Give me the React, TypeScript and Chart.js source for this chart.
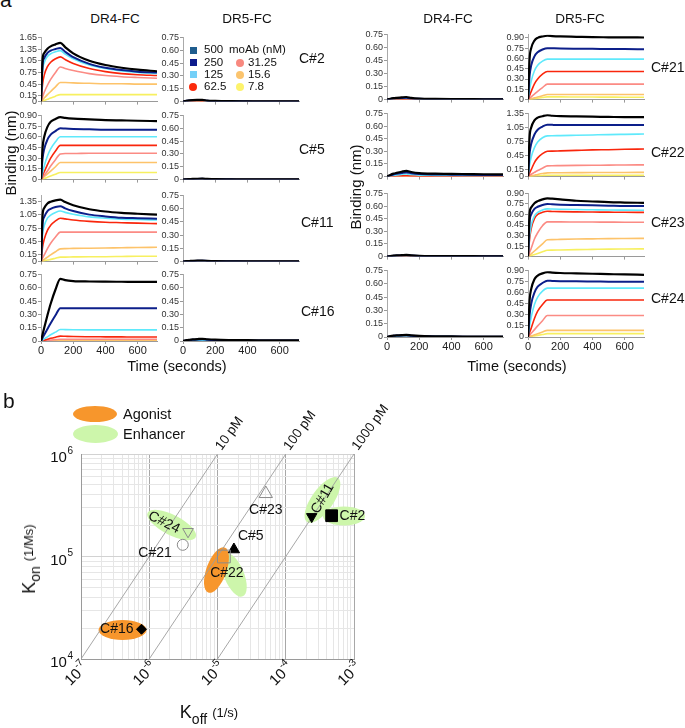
import React, { useEffect, useRef } from "react";
import { Chart, registerables } from "chart.js";
Chart.register(...registerables);

const FONT = "'Liberation Sans', Arial, Helvetica, sans-serif";

// ---------------- Panel a data ----------------
const TIME = [0, 10, 20, 40, 60, 90, 120, 150, 200, 300, 400, 500, 600, 720];
const CONC_LABELS = ["500", "250", "125", "62.5", "31.25", "15.6", "7.8"];
const ZERO = [0, 0, 0, 0, 0, 0, 0, 0, 0, 0, 0, 0, 0, 0];

const C2_DR4 = [
  [0, 1.10, 1.25, 1.36, 1.42, 1.47, 1.51, 1.40, 1.24, 1.05, 0.94, 0.87, 0.82, 0.78],
  [0, 0.95, 1.12, 1.25, 1.31, 1.35, 1.38, 1.28, 1.14, 0.97, 0.87, 0.81, 0.77, 0.745],
  [0, 0.80, 1.00, 1.16, 1.23, 1.28, 1.31, 1.22, 1.10, 0.94, 0.85, 0.79, 0.75, 0.725],
  [0, 0.45, 0.68, 0.90, 1.01, 1.10, 1.15, 1.08, 0.98, 0.85, 0.77, 0.72, 0.69, 0.67],
  [0, 0.12, 0.24, 0.42, 0.57, 0.75, 0.89, 0.85, 0.80, 0.72, 0.67, 0.64, 0.62, 0.60],
  [0, 0.04, 0.09, 0.18, 0.26, 0.38, 0.49, 0.49, 0.48, 0.47, 0.46, 0.46, 0.45, 0.45],
  [0, 0.015, 0.03, 0.06, 0.09, 0.14, 0.18, 0.18, 0.18, 0.18, 0.18, 0.18, 0.18, 0.18],
];
const C2_DR5 = [
  [0, 0.006, 0.01, 0.015, 0.018, 0.02, 0.021, 0.012, 0.008, 0.005, 0.004, 0.003, 0.003, 0.002],
  [0, 0.005, 0.009, 0.013, 0.016, 0.018, 0.019, 0.01, 0.006, 0.004, 0.003, 0.002, 0.002, 0.002],
  [0, 0.003, 0.005, 0.008, 0.01, 0.011, 0.012, 0.006, 0.004, 0.003, 0.002, 0.002, 0.001, 0.001],
  [0, 0.001, 0.002, 0.003, 0.004, 0.004, 0.004, 0.002, 0.001, 0, 0, 0, 0, 0],
  ZERO, ZERO, ZERO,
];
const C5_DR4 = [
  [0, 0.45, 0.60, 0.74, 0.81, 0.85, 0.875, 0.865, 0.855, 0.845, 0.835, 0.83, 0.825, 0.82],
  [0, 0.30, 0.43, 0.56, 0.63, 0.68, 0.72, 0.715, 0.71, 0.705, 0.70, 0.70, 0.70, 0.70],
  [0, 0.10, 0.19, 0.33, 0.43, 0.53, 0.60, 0.60, 0.60, 0.60, 0.60, 0.60, 0.60, 0.60],
  [0, 0.06, 0.11, 0.21, 0.30, 0.40, 0.48, 0.48, 0.48, 0.48, 0.48, 0.48, 0.48, 0.48],
  [0, 0.03, 0.06, 0.12, 0.19, 0.28, 0.36, 0.365, 0.365, 0.37, 0.37, 0.37, 0.37, 0.37],
  [0, 0.02, 0.04, 0.08, 0.12, 0.18, 0.24, 0.24, 0.24, 0.24, 0.24, 0.24, 0.24, 0.24],
  [0, 0.008, 0.016, 0.033, 0.05, 0.075, 0.10, 0.10, 0.10, 0.10, 0.10, 0.10, 0.10, 0.10],
];
const C5_DR5 = [
  [0, 0.002, 0.004, 0.006, 0.008, 0.01, 0.011, 0.008, 0.005, 0.004, 0.003, 0.003, 0.002, 0.002],
  [0, 0.002, 0.003, 0.005, 0.006, 0.008, 0.009, 0.006, 0.004, 0.003, 0.002, 0.002, 0.002, 0.001],
  ZERO, ZERO, ZERO, ZERO, ZERO,
];
const C11_DR4 = [
  [0, 1.05, 1.20, 1.30, 1.34, 1.37, 1.385, 1.33, 1.26, 1.17, 1.12, 1.09, 1.07, 1.05],
  [0, 0.85, 1.00, 1.13, 1.18, 1.22, 1.24, 1.19, 1.13, 1.05, 1.01, 0.98, 0.97, 0.96],
  [0, 0.60, 0.80, 0.97, 1.04, 1.10, 1.13, 1.10, 1.06, 1.00, 0.97, 0.95, 0.94, 0.93],
  [0, 0.33, 0.50, 0.70, 0.81, 0.91, 0.97, 0.955, 0.93, 0.90, 0.88, 0.87, 0.86, 0.85],
  [0, 0.08, 0.15, 0.29, 0.41, 0.55, 0.66, 0.66, 0.66, 0.66, 0.66, 0.66, 0.66, 0.66],
  [0, 0.025, 0.05, 0.10, 0.15, 0.22, 0.285, 0.29, 0.295, 0.30, 0.305, 0.31, 0.315, 0.32],
  [0, 0.008, 0.017, 0.035, 0.05, 0.075, 0.10, 0.10, 0.105, 0.11, 0.11, 0.115, 0.12, 0.12],
];
const C11_DR5 = [
  [0, 0.003, 0.005, 0.007, 0.009, 0.011, 0.012, 0.008, 0.005, 0.004, 0.003, 0.003, 0.002, 0.002],
  [0, 0.002, 0.004, 0.006, 0.007, 0.009, 0.01, 0.007, 0.004, 0.003, 0.002, 0.002, 0.002, 0.001],
  ZERO, ZERO, ZERO, ZERO, ZERO,
];
const C16_DR4 = [
  [0, 0.075, 0.15, 0.29, 0.42, 0.58, 0.70, 0.685, 0.675, 0.67, 0.668, 0.667, 0.666, 0.665],
  [0, 0.035, 0.07, 0.135, 0.20, 0.29, 0.37, 0.37, 0.37, 0.37, 0.37, 0.37, 0.37, 0.37],
  [0, 0.012, 0.024, 0.047, 0.07, 0.10, 0.13, 0.128, 0.126, 0.125, 0.125, 0.125, 0.125, 0.125],
  [0, 0.005, 0.01, 0.02, 0.03, 0.043, 0.055, 0.053, 0.05, 0.048, 0.047, 0.046, 0.045, 0.045],
  [0, 0.002, 0.004, 0.007, 0.01, 0.015, 0.02, 0.02, 0.02, 0.02, 0.02, 0.02, 0.02, 0.02],
  [0, 0.001, 0.001, 0.002, 0.003, 0.004, 0.005, 0.005, 0.005, 0.005, 0.005, 0.005, 0.005, 0.005],
  ZERO,
];
const C16_DR5 = [
  [0, 0.005, 0.009, 0.014, 0.018, 0.022, 0.025, 0.02, 0.015, 0.011, 0.009, 0.008, 0.007, 0.006],
  [0, 0.004, 0.007, 0.011, 0.014, 0.017, 0.019, 0.015, 0.011, 0.008, 0.007, 0.006, 0.005, 0.005],
  [0, 0.002, 0.003, 0.005, 0.006, 0.007, 0.008, 0.006, 0.004, 0.003, 0.002, 0.002, 0.002, 0.002],
  ZERO, ZERO, ZERO, ZERO,
];
const C21_DR4 = [
  [0, 0.006, 0.01, 0.016, 0.02, 0.025, 0.03, 0.02, 0.012, 0.008, 0.006, 0.005, 0.004, 0.003],
  [0, 0.005, 0.008, 0.012, 0.015, 0.018, 0.02, 0.014, 0.009, 0.006, 0.005, 0.004, 0.003, 0.003],
  [0, 0.003, 0.005, 0.008, 0.01, 0.012, 0.014, 0.009, 0.006, 0.004, 0.003, 0.002, 0.002, 0.002],
  [0, 0.001, 0.002, 0.003, 0.004, 0.005, 0.005, 0.003, 0.002, 0.001, 0, 0, 0, 0],
  ZERO, ZERO, ZERO,
];
const C21_DR5 = [
  [0, 0.60, 0.75, 0.86, 0.90, 0.92, 0.93, 0.925, 0.92, 0.915, 0.91, 0.908, 0.906, 0.905],
  [0, 0.35, 0.50, 0.63, 0.69, 0.73, 0.75, 0.748, 0.745, 0.742, 0.74, 0.738, 0.736, 0.735],
  [0, 0.15, 0.27, 0.42, 0.50, 0.56, 0.59, 0.59, 0.59, 0.59, 0.59, 0.59, 0.59, 0.59],
  [0, 0.06, 0.12, 0.23, 0.30, 0.37, 0.41, 0.41, 0.41, 0.41, 0.41, 0.41, 0.41, 0.41],
  [0, 0.02, 0.04, 0.08, 0.12, 0.175, 0.225, 0.225, 0.225, 0.225, 0.225, 0.225, 0.225, 0.225],
  [0, 0.006, 0.012, 0.025, 0.037, 0.056, 0.075, 0.075, 0.075, 0.075, 0.075, 0.075, 0.075, 0.075],
  [0, 0.003, 0.007, 0.013, 0.02, 0.03, 0.04, 0.04, 0.039, 0.038, 0.037, 0.036, 0.035, 0.035],
];
const C22_DR4 = [
  [0, 0.01, 0.02, 0.035, 0.045, 0.058, 0.068, 0.055, 0.042, 0.035, 0.032, 0.03, 0.028, 0.026],
  [0, 0.007, 0.014, 0.025, 0.033, 0.042, 0.05, 0.04, 0.03, 0.025, 0.023, 0.021, 0.02, 0.02],
  [0, 0.004, 0.008, 0.015, 0.02, 0.026, 0.03, 0.024, 0.018, 0.015, 0.013, 0.012, 0.012, 0.012],
  [0, 0.001, 0.003, 0.005, 0.007, 0.009, 0.01, 0.008, 0.006, 0.005, 0.004, 0.004, 0.004, 0.004],
  ZERO, ZERO, ZERO,
];
const C22_DR5 = [
  [0, 0.85, 1.05, 1.20, 1.26, 1.29, 1.31, 1.30, 1.29, 1.285, 1.28, 1.275, 1.27, 1.27],
  [0, 0.50, 0.70, 0.90, 1.00, 1.07, 1.11, 1.105, 1.10, 1.10, 1.10, 1.10, 1.10, 1.10],
  [0, 0.25, 0.42, 0.62, 0.74, 0.83, 0.87, 0.872, 0.876, 0.883, 0.89, 0.897, 0.903, 0.91],
  [0, 0.08, 0.15, 0.30, 0.40, 0.49, 0.54, 0.545, 0.55, 0.56, 0.57, 0.575, 0.583, 0.59],
  [0, 0.025, 0.05, 0.09, 0.13, 0.18, 0.23, 0.232, 0.235, 0.24, 0.243, 0.245, 0.248, 0.25],
  [0, 0.008, 0.016, 0.03, 0.045, 0.065, 0.08, 0.081, 0.082, 0.084, 0.086, 0.087, 0.088, 0.09],
  [0, 0.003, 0.006, 0.012, 0.018, 0.025, 0.03, 0.03, 0.03, 0.03, 0.03, 0.03, 0.03, 0.03],
];
const C23_DR4 = [
  [0, 0.004, 0.007, 0.011, 0.014, 0.017, 0.02, 0.015, 0.01, 0.007, 0.006, 0.005, 0.004, 0.004],
  [0, 0.003, 0.006, 0.009, 0.012, 0.014, 0.016, 0.012, 0.008, 0.006, 0.005, 0.004, 0.003, 0.003],
  [0, 0.002, 0.003, 0.005, 0.006, 0.008, 0.009, 0.007, 0.005, 0.003, 0.002, 0.002, 0.002, 0.002],
  ZERO, ZERO, ZERO, ZERO,
];
const C23_DR5 = [
  [0, 0.62, 0.70, 0.76, 0.79, 0.815, 0.83, 0.825, 0.815, 0.795, 0.785, 0.775, 0.77, 0.765],
  [0, 0.50, 0.60, 0.68, 0.71, 0.735, 0.75, 0.745, 0.74, 0.735, 0.73, 0.725, 0.72, 0.72],
  [0, 0.30, 0.45, 0.58, 0.63, 0.665, 0.68, 0.678, 0.675, 0.67, 0.667, 0.664, 0.662, 0.66],
  [0, 0.25, 0.40, 0.54, 0.60, 0.63, 0.645, 0.643, 0.64, 0.637, 0.635, 0.633, 0.631, 0.63],
  [0, 0.06, 0.12, 0.25, 0.34, 0.44, 0.495, 0.495, 0.494, 0.493, 0.492, 0.491, 0.49, 0.49],
  [0, 0.02, 0.04, 0.08, 0.12, 0.18, 0.24, 0.242, 0.245, 0.25, 0.253, 0.256, 0.258, 0.26],
  [0, 0.008, 0.015, 0.03, 0.045, 0.068, 0.09, 0.092, 0.095, 0.10, 0.103, 0.106, 0.108, 0.11],
];
const C24_DR4 = [
  [0, 0.006, 0.01, 0.015, 0.018, 0.021, 0.023, 0.018, 0.012, 0.008, 0.006, 0.005, 0.004, 0.004],
  [0, 0.005, 0.009, 0.013, 0.016, 0.018, 0.02, 0.015, 0.01, 0.007, 0.005, 0.004, 0.004, 0.003],
  [0, 0.003, 0.005, 0.008, 0.01, 0.012, 0.013, 0.01, 0.007, 0.005, 0.004, 0.003, 0.003, 0.002],
  [0, 0.002, 0.004, 0.006, 0.008, 0.01, 0.011, 0.008, 0.005, 0.003, 0.002, 0.002, 0.001, 0.001],
  ZERO, ZERO, ZERO,
];
const C24_DR5 = [
  [0, 0.50, 0.65, 0.78, 0.83, 0.86, 0.875, 0.87, 0.865, 0.86, 0.855, 0.85, 0.845, 0.84],
  [0, 0.30, 0.45, 0.60, 0.68, 0.73, 0.76, 0.758, 0.755, 0.752, 0.75, 0.748, 0.746, 0.745],
  [0, 0.15, 0.27, 0.44, 0.54, 0.62, 0.66, 0.66, 0.66, 0.66, 0.66, 0.66, 0.66, 0.66],
  [0, 0.06, 0.12, 0.25, 0.35, 0.44, 0.50, 0.50, 0.50, 0.50, 0.50, 0.50, 0.50, 0.50],
  [0, 0.025, 0.05, 0.10, 0.15, 0.22, 0.29, 0.29, 0.29, 0.29, 0.29, 0.29, 0.29, 0.29],
  [0, 0.008, 0.015, 0.03, 0.045, 0.068, 0.09, 0.09, 0.09, 0.09, 0.09, 0.09, 0.09, 0.09],
  [0, 0.004, 0.008, 0.015, 0.022, 0.033, 0.045, 0.045, 0.045, 0.045, 0.045, 0.045, 0.045, 0.045],
];

const X_TICKS_A = [0, 200, 400, 600];
const Y_T075 = [0, 0.15, 0.3, 0.45, 0.6, 0.75];
const Y_T090 = [0, 0.15, 0.3, 0.45, 0.6, 0.75, 0.9];
const Y_TODD = [0, 0.15, 0.45, 0.75, 1.05, 1.35];
const Y_TODD165 = [0, 0.15, 0.45, 0.75, 1.05, 1.35, 1.65];

// ---------------- Panel b data ----------------
const CLONES = ["C#16", "C#24", "C#21", "C#22", "C#5", "C#23", "C#11", "C#2"];
const KOFF = [7.7e-7, 3.7e-6, 3.1e-6, 1.24e-5, 1.74e-5, 5.1e-5, 2.4e-4, 4.7e-4];
const KON = [1.95e4, 1.75e5, 1.3e5, 1.0e5, 1.17e5, 4.1e5, 2.45e5, 2.5e5];
const ELLIPSE_KIND = ["agonist", "enhancer", "enhancer", "agonist", "enhancer", "enhancer"];
const ELLIPSE_KOFF = [4.06e-7, 2.13e-6, 1.75e-5, 9.66e-6, 3.45e-4, 7.13e-4];
const ELLIPSE_KON = [1.92e4, 2.03e5, 6.6e4, 7.38e4, 3.56e5, 2.48e5];
const ISO_KD = [1e-11, 1e-10, 1e-9];
const ISO_LABELS = ["10 pM", "100 pM", "1000 pM"];
const X_EXP_B = [-7, -6, -5, -4, -3];
const Y_EXP_B = [4, 5, 6];

// ---------------- styles ----------------
const LINE_COLORS = ["#000000", "#0c1f8a", "#5fe9fb", "#f9260c", "#fb8b84", "#fdc36a", "#f7f060"];
const LEGEND_COLORS = ["#1f5d8e", "#0d1b8c", "#74d0f8", "#fb2a0c", "#f8897f", "#fbc46e", "#fdf36c"];
const AGONIST = "#f7962c";
const ENHANCER = "#cdf6ab";
const ELLIPSE_SHAPE = [
  { rx: 24, ry: 10, rot: 0 },
  { rx: 27, ry: 10, rot: 27 },
  { rx: 10, ry: 23, rot: -22 },
  { rx: 10, ry: 24, rot: 20 },
  { rx: 27, ry: 11, rot: -55 },
  { rx: 21, ry: 9.5, rot: 0 },
];
const MARKER = [
  { style: "rectRot", r: 5, filled: true, rot: 0 },
  { style: "triangle", r: 6.2, filled: false, rot: 180 },
  { style: "circle", r: 5.5, filled: false, rot: 0 },
  { style: "rect", r: 9, filled: false, rot: 0 },
  { style: "triangle", r: 6.5, filled: true, rot: 0 },
  { style: "triangle", r: 7.7, filled: false, rot: 0 },
  { style: "triangle", r: 6, filled: true, rot: 180 },
  { style: "rect", r: 8.3, filled: true, rot: 0 },
];
const LABEL_POS = [
  { dx: -8, dy: 0, align: "right", rot: 0 },
  { dx: -24, dy: -9, align: "center", rot: 27 },
  { dx: -11, dy: 8, align: "right", rot: 0 },
  { dx: 3, dy: 17, align: "center", rot: 0 },
  { dx: 4, dy: -13, align: "left", rot: 0 },
  { dx: 0, dy: 16, align: "center", rot: 0 },
  { dx: 11, dy: -18, align: "center", rot: -60 },
  { dx: 8, dy: 0, align: "left", rot: 0 },
];

const PLOT_W = 116;
const AXIS_W = 32;
const PAD_T = 6;
const PAD_R = 4;

type MiniProps = {
  left: number; top: number; zero: number; max: number; ticks: number[];
  series: number[][]; xLabels: boolean;
};

function Mini({ left, top, zero, max, ticks, series, xLabels }: MiniProps) {
  const ref = useRef<HTMLCanvasElement>(null);
  const plotH = zero - top;
  const xh = xLabels ? 16 : 4;
  const W = AXIS_W + PLOT_W + PAD_R;
  const H = PAD_T + plotH + xh;
  useEffect(() => {
    const chart = new Chart(ref.current as HTMLCanvasElement, {
      type: "line",
      data: {
        datasets: series.map((vals, i) => ({
          label: CONC_LABELS[i],
          data: vals.map((v, j) => ({ x: TIME[j], y: v })),
          borderColor: LINE_COLORS[i],
          borderWidth: i === 0 ? 2.2 : i === 1 ? 2 : 1.6,
          pointRadius: 0,
          cubicInterpolationMode: "monotone",
          fill: false,
        })),
      },
      options: {
        animation: false,
        responsive: false,
        events: [],
        layout: { padding: { top: PAD_T, right: PAD_R, left: 0, bottom: 0 }, autoPadding: false },
        plugins: { legend: { display: false }, tooltip: { enabled: false } },
        scales: {
          x: {
            type: "linear", min: 0, max: 720,
            afterBuildTicks: (s: any) => { s.ticks = X_TICKS_A.map((v) => ({ value: v })); },
            afterFit: (s: any) => { s.height = xh; },
            grid: { drawOnChartArea: false, drawTicks: true, tickLength: 3, tickColor: "#999" },
            border: { color: "#9a9a9a" },
            ticks: { display: xLabels, font: { family: FONT, size: 11 }, color: "#222", padding: 0, maxRotation: 0, autoSkip: false },
          },
          y: {
            type: "linear", min: 0, max,
            afterBuildTicks: (s: any) => { s.ticks = ticks.map((v) => ({ value: v })); },
            afterFit: (s: any) => { s.width = AXIS_W; },
            grid: { drawOnChartArea: false, drawTicks: true, tickLength: 3, tickColor: "#999" },
            border: { color: "#aaa" },
            ticks: {
              font: { family: FONT, size: 9 }, color: "#333", padding: 1, autoSkip: false,
              callback: (v: any) => (Number(v) === 0 ? "0" : Number(v).toFixed(2)),
            },
          },
        },
      },
    } as any);
    return () => chart.destroy();
  }, []);
  return (
    <canvas
      ref={ref}
      width={W}
      height={H}
      style={{ position: "absolute", left: left - AXIS_W, top: top - PAD_T, width: W, height: H }}
    />
  );
}

function logTicks(a: number, b: number) {
  const out: any[] = [];
  for (let e = a; e < b; e++) {
    for (let k = 1; k <= 9; k++) out.push({ value: k * Math.pow(10, e), major: k === 1 });
  }
  out.push({ value: Math.pow(10, b), major: true });
  return out;
}

function KineticsChart() {
  const ref = useRef<HTMLCanvasElement>(null);
  useEffect(() => {
    const ellipsePlugin = {
      id: "ellipses",
      beforeDatasetsDraw(chart: any) {
        const { ctx, scales } = chart;
        ctx.save();
        ELLIPSE_KOFF.forEach((koff, i) => {
          const px = scales.x.getPixelForValue(koff);
          const py = scales.y.getPixelForValue(ELLIPSE_KON[i]);
          const s = ELLIPSE_SHAPE[i];
          ctx.beginPath();
          ctx.ellipse(px, py, s.rx, s.ry, (s.rot * Math.PI) / 180, 0, Math.PI * 2);
          ctx.fillStyle = ELLIPSE_KIND[i] === "agonist" ? AGONIST : ENHANCER;
          ctx.fill();
        });
        ctx.restore();
      },
    };
    const labelPlugin = {
      id: "labels",
      afterDatasetsDraw(chart: any) {
        const { ctx, scales, chartArea } = chart;
        ctx.save();
        ctx.fillStyle = "#111";
        ctx.textBaseline = "middle";
        ctx.font = `14px ${FONT}`;
        CLONES.forEach((name, i) => {
          const el = chart.getDatasetMeta(i).data[0];
          const p = LABEL_POS[i];
          ctx.save();
          ctx.translate(el.x + p.dx, el.y + p.dy);
          ctx.rotate((p.rot * Math.PI) / 180);
          ctx.textAlign = p.align;
          ctx.fillText(name, 0, 0);
          ctx.restore();
        });
        // iso-affinity labels
        ctx.font = `13.5px ${FONT}`;
        ctx.textAlign = "left";
        ctx.textBaseline = "alphabetic";
        ISO_KD.forEach((kd, i) => {
          const px = scales.x.getPixelForValue(kd * 1e6);
          const py = scales.y.getPixelForValue(1e6);
          ctx.save();
          ctx.translate(px + 4, py - 3);
          ctx.rotate((-54 * Math.PI) / 180);
          ctx.fillText(ISO_LABELS[i], 0, 0);
          ctx.restore();
        });
        // x tick labels
        X_EXP_B.forEach((e) => {
          const px = scales.x.getPixelForValue(Math.pow(10, e));
          ctx.save();
          ctx.translate(px + 5, chartArea.bottom + 6);
          ctx.rotate(-Math.PI / 4);
          ctx.textBaseline = "middle";
          ctx.textAlign = "left";
          ctx.font = `15px ${FONT}`;
          const w1 = ctx.measureText("10").width;
          ctx.font = `10px ${FONT}`;
          const sup = String(e);
          const w2 = ctx.measureText(sup).width;
          ctx.font = `15px ${FONT}`;
          ctx.fillText("10", -(w1 + w2 + 0.5), 0);
          ctx.font = `10px ${FONT}`;
          ctx.fillText(sup, -w2, -6);
          ctx.restore();
        });
        // y tick labels
        Y_EXP_B.forEach((e) => {
          const py = scales.y.getPixelForValue(Math.pow(10, e));
          ctx.textBaseline = "middle";
          ctx.font = `10px ${FONT}`;
          const sup = String(e);
          const w2 = ctx.measureText(sup).width;
          const right = chartArea.left - 8;
          ctx.textAlign = "left";
          ctx.fillText(sup, right - w2, py - 3);
          ctx.font = `15px ${FONT}`;
          ctx.textAlign = "right";
          ctx.fillText("10", right - w2 - 0.5, py + 4);
        });
        ctx.restore();
      },
    };
    const markerSets = CLONES.map((name, i) => ({
      label: name,
      type: "scatter",
      data: [{ x: KOFF[i], y: KON[i] }],
      pointStyle: MARKER[i].style,
      rotation: MARKER[i].rot,
      pointRadius: MARKER[i].r,
      backgroundColor: MARKER[i].filled ? "#000" : "rgba(0,0,0,0)",
      borderColor: MARKER[i].filled ? "#000" : "#8a8a8a",
      borderWidth: 1,
      showLine: false,
    }));
    const isoSets = ISO_KD.map((kd, i) => ({
      label: ISO_LABELS[i],
      type: "scatter",
      data: [{ x: kd * 1e4, y: 1e4 }, { x: kd * 1e6, y: 1e6 }],
      showLine: true,
      borderColor: "#9d9d9d",
      borderWidth: 0.9,
      pointRadius: 0,
    }));
    const chart = new Chart(ref.current as HTMLCanvasElement, {
      type: "scatter",
      data: { datasets: [...markerSets, ...isoSets] },
      options: {
        animation: false,
        responsive: false,
        events: [],
        layout: { padding: { top: 84, right: 56, left: 0, bottom: 0 }, autoPadding: false },
        plugins: { legend: { display: false }, tooltip: { enabled: false } },
        scales: {
          x: {
            type: "logarithmic", min: 1e-7, max: 1e-3, position: "bottom",
            afterBuildTicks: (s: any) => { s.ticks = logTicks(-7, -3); },
            afterFit: (s: any) => { s.height = 69; },
            grid: { color: (c: any) => (c.tick && c.tick.major ? "#a8a8a8" : "#e6e6e6"), drawTicks: false, lineWidth: 1 },
            border: { color: "#9a9a9a" },
            ticks: { display: false },
          },
          y: {
            type: "logarithmic", min: 1e4, max: 1e6, position: "left",
            afterBuildTicks: (s: any) => { s.ticks = logTicks(4, 6); },
            afterFit: (s: any) => { s.width = 81; },
            grid: { color: (c: any) => (c.tick && c.tick.major ? "#d2d2d2" : "#e6e6e6"), drawTicks: false, lineWidth: 1 },
            border: { color: "#9a9a9a" },
            ticks: { display: false },
          },
        },
      },
      plugins: [ellipsePlugin, labelPlugin],
    } as any);
    return () => chart.destroy();
  }, []);
  return (
    <canvas ref={ref} width={410} height={358} style={{ position: "absolute", left: 0, top: 370, width: 410, height: 358 }} />
  );
}

function Txt({ x, y, size, children, align = "left", rotate = 0, color = "#111" }: any) {
  const tx = align === "center" ? "-50%" : align === "right" ? "-100%" : "0";
  return (
    <div
      style={{
        position: "absolute", left: x, top: y, fontFamily: FONT, fontSize: size, lineHeight: 1,
        whiteSpace: "nowrap", color,
        transform: `translate(${tx}, -50%)` + (rotate ? ` rotate(${rotate}deg)` : ""),
      }}
    >
      {children}
    </div>
  );
}

const LEFT_ROWS = [[37, 104], [115, 182], [195, 264], [274, 341]];
const RIGHT_ROWS = [[34, 102], [113, 179], [193, 259], [270, 337]];

export default function App() {
  const plots = [
    { x: 41, row: LEFT_ROWS[0], max: 1.65, ticks: Y_TODD165, s: C2_DR4 },
    { x: 183, row: LEFT_ROWS[0], max: 0.75, ticks: Y_T075, s: C2_DR5 },
    { x: 41, row: LEFT_ROWS[1], max: 0.9, ticks: Y_T090, s: C5_DR4 },
    { x: 183, row: LEFT_ROWS[1], max: 0.75, ticks: Y_T075, s: C5_DR5 },
    { x: 41, row: LEFT_ROWS[2], max: 1.48, ticks: Y_TODD, s: C11_DR4 },
    { x: 183, row: LEFT_ROWS[2], max: 0.75, ticks: Y_T075, s: C11_DR5 },
    { x: 41, row: LEFT_ROWS[3], max: 0.75, ticks: Y_T075, s: C16_DR4, xl: true },
    { x: 183, row: LEFT_ROWS[3], max: 0.75, ticks: Y_T075, s: C16_DR5, xl: true },
    { x: 387, row: RIGHT_ROWS[0], max: 0.75, ticks: Y_T075, s: C21_DR4 },
    { x: 528, row: RIGHT_ROWS[0], max: 0.95, ticks: Y_T090, s: C21_DR5 },
    { x: 387, row: RIGHT_ROWS[1], max: 0.75, ticks: Y_T075, s: C22_DR4 },
    { x: 528, row: RIGHT_ROWS[1], max: 1.35, ticks: Y_TODD, s: C22_DR5 },
    { x: 387, row: RIGHT_ROWS[2], max: 0.75, ticks: Y_T075, s: C23_DR4 },
    { x: 528, row: RIGHT_ROWS[2], max: 0.9, ticks: Y_T090, s: C23_DR5 },
    { x: 387, row: RIGHT_ROWS[3], max: 0.75, ticks: Y_T075, s: C24_DR4, xl: true },
    { x: 528, row: RIGHT_ROWS[3], max: 0.9, ticks: Y_T090, s: C24_DR5, xl: true },
  ];
  const legendLeft = [0, 1, 2, 3];
  const legendRight = [4, 5, 6];
  const legendY = [50, 62.5, 74.7, 87.3];
  return (
    <div style={{ position: "absolute", left: 0, top: 0, width: 685, height: 728, background: "#fff", overflow: "hidden", fontFamily: FONT }}>
      {plots.map((p, i) => (
        <Mini key={i} left={p.x} top={p.row[0]} zero={p.row[1]} max={p.max} ticks={p.ticks} series={p.s} xLabels={!!p.xl} />
      ))}
      <KineticsChart />

      {/* panel a text */}
      <Txt x={0} y={-1} size={21}>a</Txt>
      <Txt x={115} y={19} size={13.5} align="center">DR4-FC</Txt>
      <Txt x={247} y={19} size={13.5} align="center">DR5-FC</Txt>
      <Txt x={448} y={19} size={13.5} align="center">DR4-FC</Txt>
      <Txt x={580} y={19} size={13.5} align="center">DR5-FC</Txt>
      <Txt x={299} y={58} size={14}>C#2</Txt>
      <Txt x={299} y={149} size={14}>C#5</Txt>
      <Txt x={301} y={222} size={14}>C#11</Txt>
      <Txt x={301} y={311} size={14}>C#16</Txt>
      <Txt x={651} y={67} size={14}>C#21</Txt>
      <Txt x={651} y={152} size={14}>C#22</Txt>
      <Txt x={651} y={222} size={14}>C#23</Txt>
      <Txt x={651} y={298} size={14}>C#24</Txt>
      <Txt x={10} y={153} size={15} align="center" rotate={-90}>Binding (nm)</Txt>
      <Txt x={355} y={187} size={15} align="center" rotate={-90}>Binding (nm)</Txt>
      <Txt x={177} y={366} size={14.5} align="center">Time (seconds)</Txt>
      <Txt x={517} y={366} size={14.5} align="center">Time (seconds)</Txt>

      {/* concentration legend */}
      {legendLeft.map((i, k) => (
        <React.Fragment key={"l" + i}>
          <div style={{
            position: "absolute", left: 193 - (i === 3 ? 4 : 3.5), top: legendY[k] - (i === 3 ? 4 : 3.5),
            width: i === 3 ? 8 : 7, height: i === 3 ? 8 : 7, borderRadius: i === 3 ? "50%" : 0, background: LEGEND_COLORS[i],
          }} />
          <Txt x={204} y={legendY[k]} size={11.5}>{CONC_LABELS[i]}</Txt>
        </React.Fragment>
      ))}
      <Txt x={229} y={50} size={11.5}>moAb (nM)</Txt>
      {legendRight.map((i, k) => (
        <React.Fragment key={"r" + i}>
          <div style={{
            position: "absolute", left: 236, top: legendY[k + 1] - 4, width: 8, height: 8,
            borderRadius: "50%", background: LEGEND_COLORS[i],
          }} />
          <Txt x={248} y={legendY[k + 1]} size={11.5}>{CONC_LABELS[i]}</Txt>
        </React.Fragment>
      ))}

      {/* panel b text */}
      <Txt x={3} y={400} size={21}>b</Txt>
      <div style={{ position: "absolute", left: 73, top: 406, width: 44, height: 16, borderRadius: "50%", background: AGONIST }} />
      <div style={{ position: "absolute", left: 73, top: 425, width: 45, height: 18, borderRadius: "50%", background: ENHANCER }} />
      <Txt x={123} y={414} size={14.5}>Agonist</Txt>
      <Txt x={123} y={434} size={14.5}>Enhancer</Txt>
      <Txt x={29} y={559} size={18} align="center" rotate={-90}>
        K<span style={{ fontSize: 14, position: "relative", top: 5 }}>on</span>{" "}
        <span style={{ fontSize: 13, position: "relative", top: -2 }}>(1/Ms)</span>
      </Txt>
      <Txt x={209} y={712} size={18} align="center">
        K<span style={{ fontSize: 14, position: "relative", top: 6 }}>off</span>{" "}
        <span style={{ fontSize: 13, position: "relative", top: -1 }}>(1/s)</span>
      </Txt>
    </div>
  );
}
